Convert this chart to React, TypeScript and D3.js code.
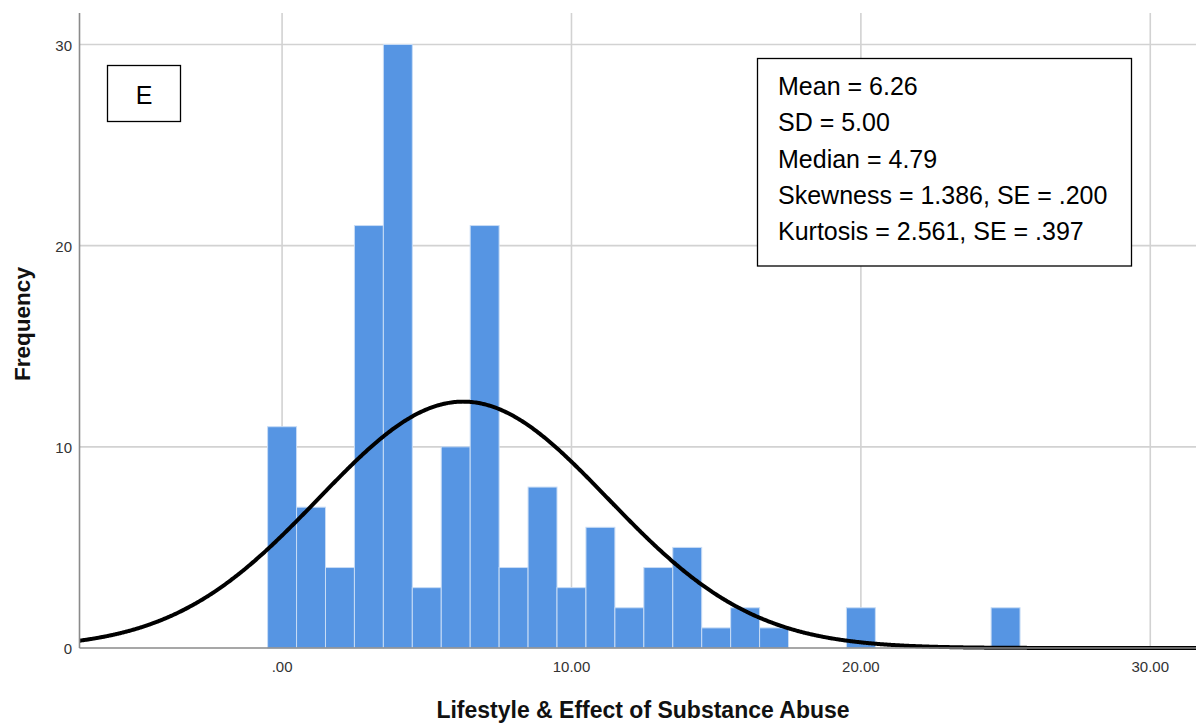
import React from "react";
import * as d3 from "d3";

// Histogram data: bin centres (bin width 1) and frequencies
const binCenters = [0, 1, 2, 3, 4, 5, 6, 7, 8, 9, 10, 11, 12, 13, 14, 15, 16, 17, 20, 25];
const frequencies = [11, 7, 4, 21, 30, 3, 10, 21, 4, 8, 3, 6, 2, 4, 5, 1, 2, 1, 2, 2];
const binWidth = 1;

const yTicks = [0, 10, 20, 30];
const xTicks = [0, 10, 20, 30];
const xTickLabels = [".00", "10.00", "20.00", "30.00"];

const statsLines = [
  "Mean = 6.26",
  "SD = 5.00",
  "Median = 4.79",
  "Skewness = 1.386, SE = .200",
  "Kurtosis = 2.561, SE = .397",
];
const mean = 6.26;
const sd = 5.0;
const curveScale = 153.5; // N x bin width as scaled in the picture

const W = 1196;
const H = 724;

export default function App() {
  const x = d3.scaleLinear().domain([-7, 31.6]).range([79.5, 79.5 + 38.6 * 28.94]);
  const y = d3.scaleLinear().domain([0, 30]).range([648, 44.5]);
  const yTop = 13;
  const x0 = x(-7);
  const y0 = y(0);

  const pdf = (v: number) =>
    (1 / (sd * Math.sqrt(2 * Math.PI))) * Math.exp(-0.5 * ((v - mean) / sd) ** 2);
  const curvePts = d3.range(-7, 31.61, 0.05).map((v) => [v, curveScale * pdf(v)] as [number, number]);
  const line = d3
    .line<[number, number]>()
    .x((d) => x(d[0]))
    .y((d) => y(d[1]))
    .curve(d3.curveBasis);

  const font = "'Liberation Sans', Arial, sans-serif";

  return (
    <svg width={W} height={H} style={{ position: "absolute", left: 0, top: 0, background: "#fff" }}>
      {/* gridlines */}
      {xTicks.map((t) => (
        <line key={"gx" + t} x1={x(t)} x2={x(t)} y1={yTop} y2={y0} stroke="#d2d2d2" strokeWidth={1.6} />
      ))}
      {yTicks.filter((t) => t > 0).map((t) => (
        <line key={"gy" + t} x1={x0} x2={W} y1={y(t)} y2={y(t)} stroke="#d2d2d2" strokeWidth={1.6} />
      ))}
      {/* bars */}
      {binCenters.map((c, i) => (
        <rect
          key={"b" + i}
          x={x(c - binWidth / 2)}
          y={y(frequencies[i])}
          width={x(c + binWidth / 2) - x(c - binWidth / 2)}
          height={y0 - y(frequencies[i])}
          fill="#5695e3"
          stroke="#c8dcf5"
          strokeWidth={1}
        />
      ))}
      {/* normal curve */}
      <path d={line(curvePts) || ""} fill="none" stroke="#000" strokeWidth={4} />
      {/* axes */}
      <line x1={x0} x2={x0} y1={yTop} y2={y0} stroke="#8a8a8a" strokeWidth={1.6} />
      <line x1={x0} x2={W} y1={y0} y2={y0} stroke="#8a8a8a" strokeWidth={1.6} />
      {yTicks.map((t) => (
        <text key={"yt" + t} x={72} y={y(t) + 6} textAnchor="end" fontFamily={font} fontSize={15} fill="#333">
          {t}
        </text>
      ))}
      {xTicks.map((t, i) => (
        <text key={"xt" + t} x={x(t)} y={672} textAnchor="middle" fontFamily={font} fontSize={15} fill="#333">
          {xTickLabels[i]}
        </text>
      ))}
      {/* axis titles */}
      <text x={643} y={718} textAnchor="middle" fontFamily={font} fontSize={23} fontWeight="bold" fill="#111">
        Lifestyle &amp; Effect of Substance Abuse
      </text>
      <text
        transform={`translate(30,324) rotate(-90)`}
        textAnchor="middle"
        fontFamily={font}
        fontSize={22.5}
        fontWeight="bold"
        fill="#111"
      >
        Frequency
      </text>
      {/* panel label */}
      <rect x={107.5} y={65.5} width={73} height={56} fill="#fff" stroke="#000" strokeWidth={1.3} />
      <text x={144} y={104} textAnchor="middle" fontFamily={font} fontSize={25} fill="#000">
        E
      </text>
      {/* stats box */}
      <rect x={757.5} y={58.5} width={374} height={207.5} fill="#fff" stroke="#000" strokeWidth={1.3} />
      {statsLines.map((s, i) => (
        <text key={"s" + i} x={778} y={95 + i * 36.25} fontFamily={font} fontSize={25} fill="#000">
          {s}
        </text>
      ))}
    </svg>
  );
}
